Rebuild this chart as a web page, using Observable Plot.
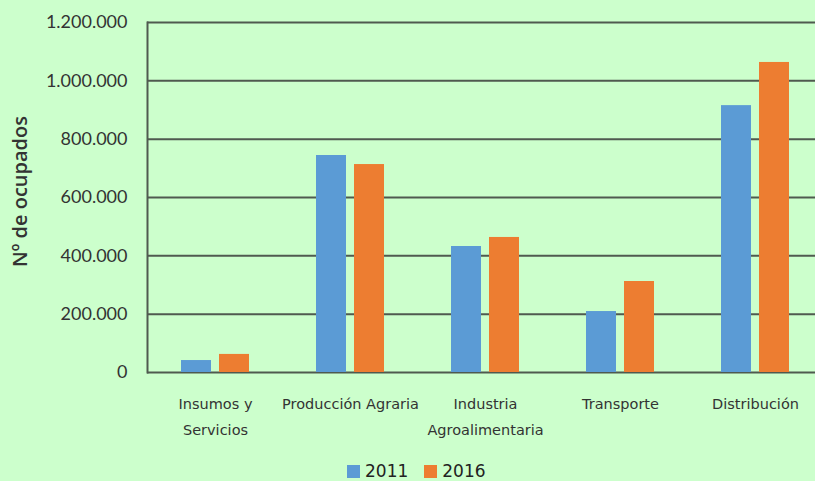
<!DOCTYPE html>
<html>
<head>
<meta charset="utf-8">
<script src="https://cdn.jsdelivr.net/npm/d3@7"></script>
<script src="https://cdn.jsdelivr.net/npm/@observablehq/plot@0.6"></script>
<style>
  html, body { margin: 0; padding: 0; background: #ccffcc; width: 815px; height: 481px; overflow: hidden; }
  #wrap { position: relative; width: 815px; height: 481px; }
  #legend { position: absolute; left: 347px; top: 463px; height: 17px; line-height: 17px; display: flex; align-items: center; font-family: "DejaVu Sans", sans-serif; font-size: 17px; color: #222; }
  .sw { display: inline-block; width: 13px; height: 13px; margin-right: 5px; }
  .item { display: inline-flex; align-items: center; margin-right: 16px; line-height: 17px; }
</style>
</head>
<body>
<div id="wrap"><div id="chart"></div><div id="legend"></div></div>
<script>
const categories = ["Insumos y\nServicios", "Producción Agraria", "Industria\nAgroalimentaria", "Transporte", "Distribución"];
const years = ["2011", "2016"];
const values2011 = [41000, 744000, 432000, 209000, 915000];
const values2016 = [62000, 713000, 463000, 312000, 1063000];
const yTicks = [0, 200000, 400000, 600000, 800000, 1000000, 1200000];
const colors = ["#5b9bd5", "#ed7d31"];
const yLabel = "Nº de ocupados";

const data2011 = categories.map((c, i) => ({cat: c, value: values2011[i]}));
const data2016 = categories.map((c, i) => ({cat: c, value: values2016[i]}));
const fmt = d3.formatLocale({decimal: ",", thousands: ".", grouping: [3], currency: ["", "€"]}).format(",");

const chart = Plot.plot({
  width: 815,
  height: 455,
  marginLeft: 147,
  marginRight: -7,
  marginTop: 22,
  marginBottom: 83,
  style: {background: "transparent"},
  x: {domain: categories, paddingInner: 0.778, paddingOuter: 0.389, axis: null},
  y: {domain: [0, 1200000], axis: null},
  marks: [
    Plot.ruleY(yTicks, {stroke: "#4f5a4f", strokeWidth: 2}),
    Plot.barY(data2011, {x: "cat", y: "value", fill: colors[0], dx: -19}),
    Plot.barY(data2016, {x: "cat", y: "value", fill: colors[1], dx: 19}),
    Plot.frame({anchor: "left", stroke: "#4f5a4f", strokeWidth: 2}),
    Plot.axisY({ticks: yTicks, tickFormat: fmt, tickSize: 0, tickPadding: 20, fontSize: 18, fontFamily: "Lato", fill: "#333", label: null}),
    Plot.axisX({tickSize: 0, tickPadding: 18, lineHeight: 1.8, fontSize: 14.5, fontFamily: "DejaVu Sans", fill: "#333", label: null}),
    Plot.text([yLabel], {frameAnchor: "left", textAnchor: "middle", dx: -127, dy: -6, rotate: -90, fontSize: 20, fontWeight: 600, fontFamily: "Open Sans", fill: "#333"})
  ]
});
document.getElementById("chart").appendChild(chart);

const legend = document.getElementById("legend");
years.forEach((y, i) => {
  const item = document.createElement("span");
  item.className = "item";
  const sw = document.createElement("span");
  sw.className = "sw";
  sw.style.background = colors[i];
  item.appendChild(sw);
  item.appendChild(document.createTextNode(y));
  legend.appendChild(item);
});
</script>
</body>
</html>
